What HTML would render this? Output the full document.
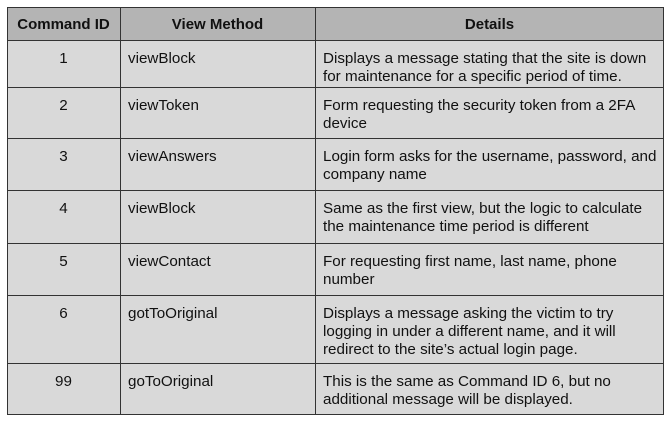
<!DOCTYPE html>
<html><head><meta charset="utf-8"><style>
body{margin:0;width:672px;height:426px;background:#fff;font-family:"Liberation Sans",Arial,sans-serif;color:#111;}
.c{position:absolute;box-sizing:border-box;font-size:15.2px;line-height:18px;padding:10px 8px 0 8px;white-space:nowrap;overflow:hidden;}
.h{background:#b4b4b4;font-weight:bold;text-align:center;padding-top:9px;font-size:15px;}
.r{background:#d9d9d9;}
.ctr{text-align:center;}
#t{position:absolute;left:7px;top:7px;width:657px;height:408px;border:1.5px solid #333;box-sizing:border-box;}
.v{position:absolute;top:7px;height:408px;width:1.5px;background:#333;}
.hl{position:absolute;left:7px;width:657px;height:1.5px;background:#333;}
</style></head><body>
<div class="c h" style="left:7px;top:7px;width:113px;height:33px">Command ID</div>
<div class="c h" style="left:120px;top:7px;width:195px;height:33px">View Method</div>
<div class="c h" style="left:315px;top:7px;width:349px;height:33px">Details</div>

<div class="c r ctr" style="left:7px;top:40px;width:113px;height:47px">1</div>
<div class="c r" style="left:120px;top:40px;width:195px;height:47px">viewBlock</div>
<div class="c r" style="left:315px;top:40px;width:349px;height:47px">Displays a message stating that the site is down<br>for maintenance for a specific period of time.</div>

<div class="c r ctr" style="left:7px;top:87px;width:113px;height:51px">2</div>
<div class="c r" style="left:120px;top:87px;width:195px;height:51px">viewToken</div>
<div class="c r" style="left:315px;top:87px;width:349px;height:51px">Form requesting the security token from a 2FA<br>device</div>

<div class="c r ctr" style="left:7px;top:138px;width:113px;height:52px">3</div>
<div class="c r" style="left:120px;top:138px;width:195px;height:52px">viewAnswers</div>
<div class="c r" style="left:315px;top:138px;width:349px;height:52px">Login form asks for the username, password, and<br>company name</div>

<div class="c r ctr" style="left:7px;top:190px;width:113px;height:53px">4</div>
<div class="c r" style="left:120px;top:190px;width:195px;height:53px">viewBlock</div>
<div class="c r" style="left:315px;top:190px;width:349px;height:53px">Same as the first view, but the logic to calculate<br>the maintenance time period is different</div>

<div class="c r ctr" style="left:7px;top:243px;width:113px;height:52px">5</div>
<div class="c r" style="left:120px;top:243px;width:195px;height:52px">viewContact</div>
<div class="c r" style="left:315px;top:243px;width:349px;height:52px">For requesting first name, last name, phone<br>number</div>

<div class="c r ctr" style="left:7px;top:295px;width:113px;height:68px">6</div>
<div class="c r" style="left:120px;top:295px;width:195px;height:68px">gotToOriginal</div>
<div class="c r" style="left:315px;top:295px;width:349px;height:68px">Displays a message asking the victim to try<br>logging in under a different name, and it will<br>redirect to the site’s actual login page.</div>

<div class="c r ctr" style="left:7px;top:363px;width:113px;height:52px">99</div>
<div class="c r" style="left:120px;top:363px;width:195px;height:52px">goToOriginal</div>
<div class="c r" style="left:315px;top:363px;width:349px;height:52px">This is the same as Command ID 6, but no<br>additional message will be displayed.</div>

<div id="t"></div>
<div class="v" style="left:119.5px"></div>
<div class="v" style="left:314.5px"></div>
<div class="hl" style="top:39.5px"></div>
<div class="hl" style="top:86.5px"></div>
<div class="hl" style="top:137.5px"></div>
<div class="hl" style="top:189.5px"></div>
<div class="hl" style="top:242.5px"></div>
<div class="hl" style="top:294.5px"></div>
<div class="hl" style="top:362.5px"></div>
</body></html>
